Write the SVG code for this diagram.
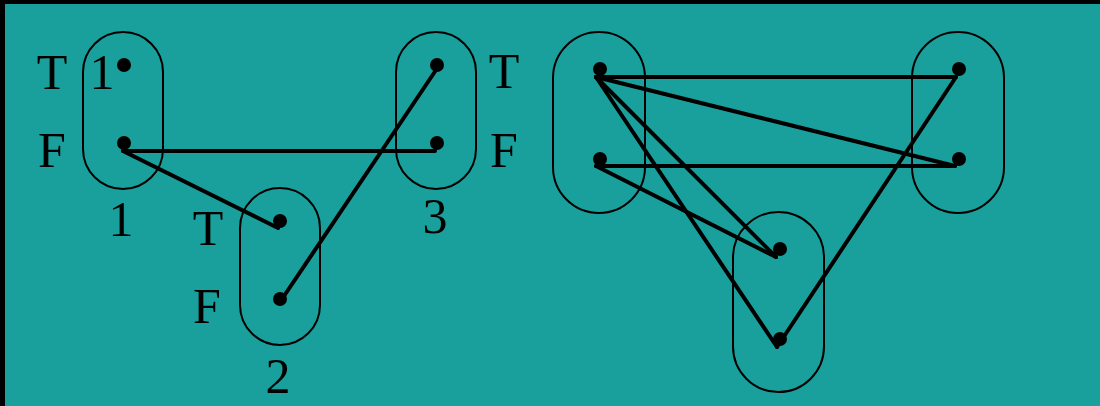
<svg xmlns="http://www.w3.org/2000/svg" width="1100" height="406" viewBox="0 0 1100 406">
<style>
.cap{fill:none;stroke:#000;stroke-width:2}
.dot{fill:#000}
.e{stroke:#000;stroke-width:4;stroke-linecap:round;fill:none}
.t{font-family:"Liberation Serif","DejaVu Serif",serif;font-size:50px;fill:#000;text-anchor:middle}
</style>
<rect x="0" y="0" width="1100" height="406" fill="#19a09c"/>
<rect x="0" y="0" width="1100" height="4" fill="#000"/>
<rect x="0" y="0" width="5" height="406" fill="#000"/>
<g id="connectors">
<line class="e" x1="123" y1="151" x2="435" y2="151"/>
<line class="e" x1="123" y1="151" x2="278" y2="228"/>
<line class="e" x1="280" y1="302" x2="436" y2="70"/>
<line class="e" x1="596" y1="77" x2="956" y2="77"/>
<line class="e" x1="596" y1="77" x2="955" y2="166"/>
<line class="e" x1="596" y1="77" x2="776" y2="257"/>
<line class="e" x1="596" y1="77" x2="777" y2="347"/>
<line class="e" x1="596" y1="166" x2="955" y2="166"/>
<line class="e" x1="596" y1="166" x2="776" y2="257"/>
<line class="e" x1="956" y1="77" x2="777" y2="347"/>
</g>
<g id="node1">
<rect class="cap" x="83" y="32" width="80" height="157" rx="40" ry="40"/>
<circle class="dot" cx="124" cy="65" r="7"/>
<circle class="dot" cx="124" cy="143" r="7"/>
<text class="t" x="52" y="89">T</text>
<text class="t" x="52" y="167">F</text>
<text class="t" x="102" y="89">1</text>
<text class="t" x="121" y="236">1</text>
</g>
<g id="node2">
<rect class="cap" x="240" y="188" width="80" height="157" rx="40" ry="40"/>
<circle class="dot" cx="280" cy="221" r="7"/>
<circle class="dot" cx="280" cy="299" r="7"/>
<text class="t" x="208" y="245">T</text>
<text class="t" x="207" y="323">F</text>
<text class="t" x="278" y="393">2</text>
</g>
<g id="node3">
<rect class="cap" x="396" y="32" width="80" height="157" rx="40" ry="40"/>
<circle class="dot" cx="437" cy="65" r="7"/>
<circle class="dot" cx="437" cy="143" r="7"/>
<text class="t" x="504" y="88">T</text>
<text class="t" x="504" y="167">F</text>
<text class="t" x="435" y="233">3</text>
</g>
<g id="nodeA">
<rect class="cap" x="553" y="32" width="92" height="181" rx="46" ry="46"/>
<circle class="dot" cx="600" cy="69" r="7"/>
<circle class="dot" cx="600" cy="159" r="7"/>
</g>
<g id="nodeB">
<rect class="cap" x="912" y="32" width="92" height="181" rx="46" ry="46"/>
<circle class="dot" cx="959" cy="69" r="7"/>
<circle class="dot" cx="959" cy="159" r="7"/>
</g>
<g id="nodeC">
<rect class="cap" x="733" y="212" width="91" height="180" rx="45.5" ry="45.5"/>
<circle class="dot" cx="780" cy="249" r="7"/>
<circle class="dot" cx="780" cy="339" r="7"/>
</g>
</svg>
